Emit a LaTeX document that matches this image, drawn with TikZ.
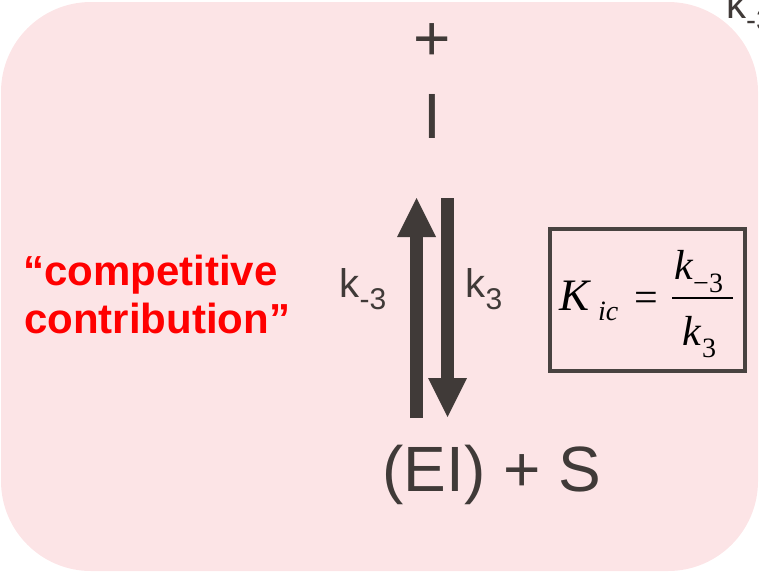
\documentclass[tikz,border=0pt]{standalone}
\usepackage{fontspec}
\setmainfont{Liberation Sans}
\newfontfamily\tms{Liberation Serif}
\usetikzlibrary{arrows.meta}
\definecolor{pinkbg}{RGB}{252,228,230}
\definecolor{darkc}{RGB}{64,58,56}
\definecolor{boxc}{RGB}{72,66,64}
\definecolor{redc}{RGB}{255,0,0}
\begin{document}
\begin{tikzpicture}[x=1pt,y=-1pt,
  txt/.style={inner sep=0pt, text=darkc},
  big/.style={txt, font=\fontsize{64}{64}\selectfont, anchor=base},
  klab/.style={txt, font=\fontsize{40}{40}\selectfont, anchor=base west},
  redtxt/.style={inner sep=0pt, text=redc, font=\bfseries\fontsize{42}{48}\selectfont, anchor=base},
  eqmain/.style={inner sep=0pt, text=black, font=\tms\fontsize{42}{42}\selectfont, anchor=base west},
  eqsub/.style={inner sep=0pt, text=black, font=\tms\fontsize{28}{28}\selectfont, anchor=base west},
  bigarrow/.style={draw=darkc, line width=13pt, -{Triangle[width=39pt,length=39pt,line width=0pt]}},
  eqbox/.style={draw=boxc, line width=4pt, minimum width=195pt, minimum height=142pt, inner sep=0pt}
]
\useasboundingbox (0,0) rectangle (759,573);
\begin{scope}
\clip (0,0) rectangle (759,573);
\fill[pinkbg, rounded corners=90pt] (1,2) rectangle (758,571);

% species
\node[big] (plus) at (432,60) {+};
\node[big] (I) at (432,138) {I};
\node[big] (EIS) at (492,491) {(EI) + S};

% equilibrium arrows
\coordinate (upfrom) at (416.5,418);
\coordinate (upto) at (416.5,198);
\coordinate (downfrom) at (447.5,198);
\coordinate (downto) at (447.5,417);
\draw[bigarrow] (upfrom) -- (upto);
\draw[bigarrow] (downfrom) -- (downto);

% rate constants
\node[klab] (km3) at (339.5,297) {k\raisebox{-12pt}{\fontsize{30}{30}\selectfont -3}};
\node[klab] (k3) at (465.5,297) {k\raisebox{-12pt}{\fontsize{30}{30}\selectfont 3}};
\node[klab] (kcut) at (726,18) {k\raisebox{-12pt}{\fontsize{30}{30}\selectfont -3}};

% red label
\node[redtxt] (comp1) at (150.5,285) {“competitive};
\node[redtxt] (comp2) at (157,333) {contribution”};

% equation box
\node[eqbox] (box) at (647.5,300) {};
\node[eqmain, font=\tms\fontsize{45}{45}\selectfont] (K) at (559,310) {\itshape K};
\node[eqsub] (ic) at (598,320) {\itshape ic};
\node[inner sep=0pt, text=black, font=\tms\fontsize{42}{42}\selectfont, anchor=base] (eq) at (646.5,311) {=};
\coordinate (barL) at (672,298);
\coordinate (barR) at (733,298);
\draw[black, line width=2pt] (barL) -- (barR);
\node[eqmain] (knum) at (674,279) {\itshape k};
\node[eqsub] (subnum) at (693,292) {−3};
\node[eqmain] (kden) at (682,345) {\itshape k};
\node[eqsub] (subden) at (702,357) {3};
\end{scope}
\end{tikzpicture}
\end{document}
